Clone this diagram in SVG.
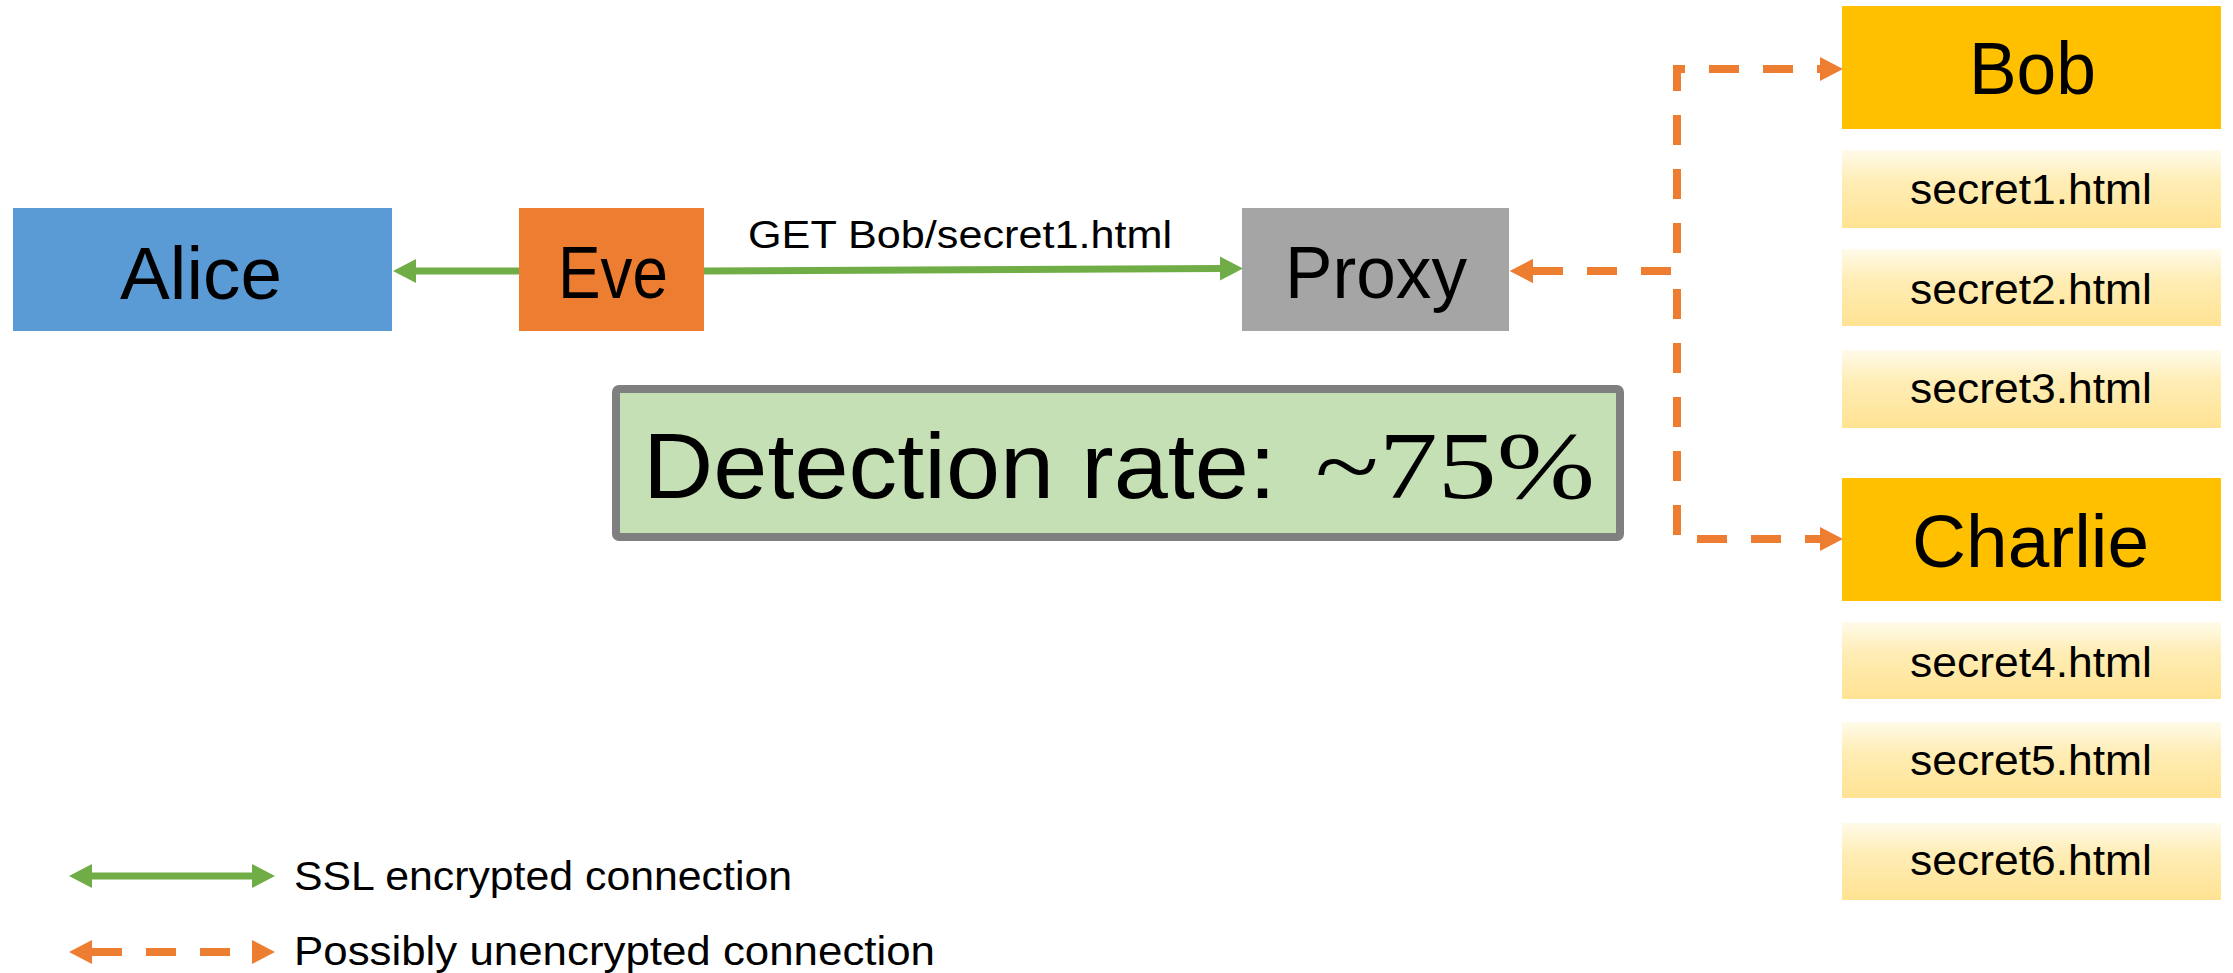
<svg xmlns="http://www.w3.org/2000/svg" width="2233" height="973" viewBox="0 0 2233 973">
<defs>
<style>
text{font-family:"Liberation Sans",Arial,sans-serif;fill:#000}
.big{font-size:74px}
.sm{font-size:43px}
.leg{font-size:41px}
.green{stroke:#70AD47;stroke-width:7;fill:none}
.orange{stroke:#ED7D31;stroke-width:8;fill:none;stroke-dasharray:30 24}
.file{fill:url(#gold)}
.gold{fill:#FFC000}
</style>
<linearGradient id="gold" x1="0" y1="0" x2="0" y2="1">
<stop offset="0" stop-color="#FFFBEA"/>
<stop offset="0.4" stop-color="#FFEDB5"/>
<stop offset="1" stop-color="#FFE393"/>
</linearGradient>
<marker id="ga" markerUnits="userSpaceOnUse" markerWidth="24" markerHeight="26" refX="0" refY="12" orient="auto-start-reverse" viewBox="0 0 24 24">
<path d="M0,0 L23,12 L0,24 z" fill="#70AD47"/>
</marker>
<marker id="oa" markerUnits="userSpaceOnUse" markerWidth="24" markerHeight="26" refX="0" refY="12" orient="auto-start-reverse" viewBox="0 0 24 24">
<path d="M0,0 L23,12 L0,24 z" fill="#ED7D31"/>
</marker>
</defs>
<rect width="2233" height="973" fill="#fff"/>

<g id="connectors">
<path class="green" d="M519,271 H416" marker-end="url(#ga)"/>
<path class="green" d="M704,271 L1220,268.5" marker-end="url(#ga)"/>
<text x="748" y="248" font-size="38" textLength="424" lengthAdjust="spacingAndGlyphs">GET Bob/secret1.html</text>
<path class="orange" d="M1533,271 H1677 V69 H1820" marker-start="url(#oa)" marker-end="url(#oa)"/>
<path class="orange" d="M1533,271 H1677 V539 H1820" marker-start="url(#oa)" marker-end="url(#oa)"/>
</g>

<g id="alice">
<rect x="13" y="208" width="379" height="123" fill="#5B9BD5"/>
<text class="big" x="120" y="299" textLength="162" lengthAdjust="spacingAndGlyphs">Alice</text>
</g>
<g id="eve">
<rect x="519" y="208" width="185" height="123" fill="#ED7D31"/>
<text class="big" x="558" y="298" textLength="110" lengthAdjust="spacingAndGlyphs">Eve</text>
</g>
<g id="proxy">
<rect x="1242" y="208" width="267" height="123" fill="#A5A5A5"/>
<text class="big" x="1285" y="298" textLength="182" lengthAdjust="spacingAndGlyphs">Proxy</text>
</g>

<g id="detection">
<rect x="616" y="389" width="1004" height="148" rx="3" fill="#C5E0B4" stroke="#7F7F7F" stroke-width="8"/>
<text x="643" y="498" font-size="92" textLength="633" lengthAdjust="spacingAndGlyphs">Detection rate:</text>
<text x="1315" y="498" font-size="96" style="font-family:'Liberation Serif','Times New Roman',serif" textLength="280" lengthAdjust="spacingAndGlyphs">~75%</text>
</g>

<g id="bob">
<rect class="gold" x="1842" y="6" width="379" height="123"/>
<text class="big" x="1969" y="94" textLength="127" lengthAdjust="spacingAndGlyphs">Bob</text>
</g>
<g id="secret1">
<rect class="file" x="1842" y="150" width="379" height="78"/>
<text class="sm" x="1910" y="204" textLength="242" lengthAdjust="spacingAndGlyphs">secret1.html</text>
</g>
<g id="secret2">
<rect class="file" x="1842" y="249" width="379" height="77"/>
<text class="sm" x="1910" y="304" textLength="242" lengthAdjust="spacingAndGlyphs">secret2.html</text>
</g>
<g id="secret3">
<rect class="file" x="1842" y="350" width="379" height="78"/>
<text class="sm" x="1910" y="403" textLength="242" lengthAdjust="spacingAndGlyphs">secret3.html</text>
</g>

<g id="charlie">
<rect class="gold" x="1842" y="478" width="379" height="123"/>
<text class="big" x="1912" y="567" textLength="237" lengthAdjust="spacingAndGlyphs">Charlie</text>
</g>
<g id="secret4">
<rect class="file" x="1842" y="622" width="379" height="77"/>
<text class="sm" x="1910" y="677" textLength="242" lengthAdjust="spacingAndGlyphs">secret4.html</text>
</g>
<g id="secret5">
<rect class="file" x="1842" y="722" width="379" height="76"/>
<text class="sm" x="1910" y="775" textLength="242" lengthAdjust="spacingAndGlyphs">secret5.html</text>
</g>
<g id="secret6">
<rect class="file" x="1842" y="823" width="379" height="77"/>
<text class="sm" x="1910" y="875" textLength="242" lengthAdjust="spacingAndGlyphs">secret6.html</text>
</g>

<g id="legend">
<path class="green" d="M92,876 H252" marker-start="url(#ga)" marker-end="url(#ga)"/>
<text class="leg" x="294" y="890" textLength="498" lengthAdjust="spacingAndGlyphs">SSL encrypted connection</text>
<path class="orange" d="M92,952 H252" marker-start="url(#oa)" marker-end="url(#oa)"/>
<text class="leg" x="294" y="965" textLength="641" lengthAdjust="spacingAndGlyphs">Possibly unencrypted connection</text>
</g>
</svg>
